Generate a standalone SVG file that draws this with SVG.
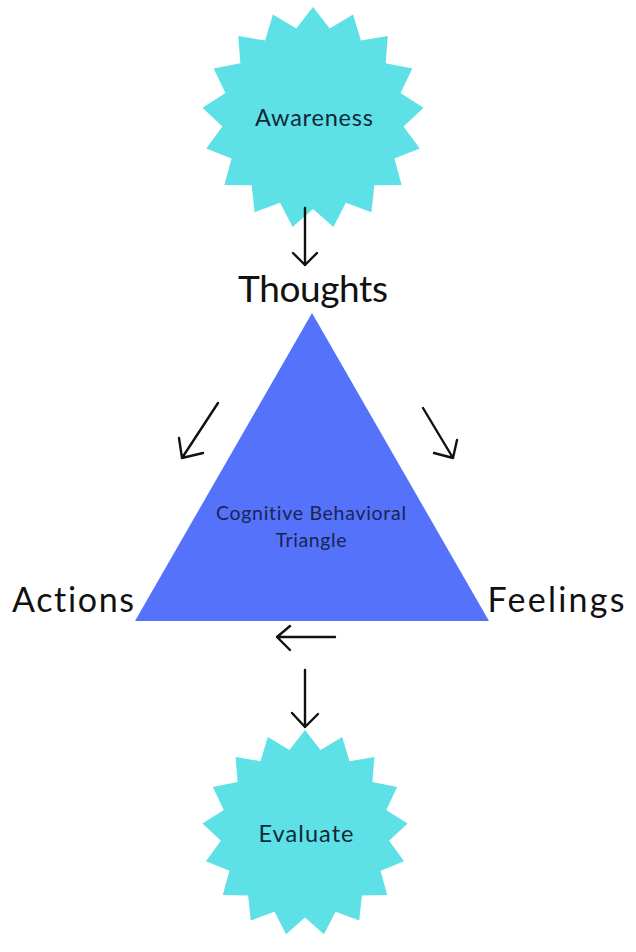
<svg xmlns="http://www.w3.org/2000/svg" xmlns:xlink="http://www.w3.org/1999/xlink" width="636" height="952" viewBox="0 0 636 952">
<style>
text{font-variant-ligatures:none;font-feature-settings:"liga" 0,"clig" 0}
.star{fill:#5DE0E6}
.tri{fill:#5472FA}
.big{font-family:Lato,"Liberation Sans",sans-serif;fill:#111;text-anchor:middle}
.small{font-family:Lato,"Liberation Sans",sans-serif;fill:#10283a;text-anchor:middle}
.inner{font-family:Lato,"Liberation Sans",sans-serif;fill:#1a2552;text-anchor:middle}
.arr{fill:none;stroke:#111;stroke-width:2.4;stroke-linecap:round;stroke-linejoin:round}
</style>
<defs>
<path id="starShape" d="M0,-100 L15.07,-80.60 L36.12,-93.25 L43.17,-69.72 L67.37,-73.90 L65.44,-49.42 L89.52,-44.57 L78.87,-22.44 L99.57,-9.23 L81.65,7.57 L96.18,27.37 L73.40,36.55 L79.80,60.26 L55.24,60.60 L52.64,85.02 L29.62,76.46 L18.38,98.30 L0,82 L-18.38,98.30 L-29.62,76.46 L-52.64,85.02 L-55.24,60.60 L-79.80,60.26 L-73.40,36.55 L-96.18,27.37 L-81.65,7.57 L-99.57,-9.23 L-78.87,-22.44 L-89.52,-44.57 L-65.44,-49.42 L-67.37,-73.90 L-43.17,-69.72 L-36.12,-93.25 L-15.07,-80.60 Z"/>
</defs>
<rect width="636" height="952" fill="#ffffff"/>
<g id="awareness">
<use xlink:href="#starShape" class="star" transform="translate(313,118) scale(1.11)"/>
<text class="small" x="314" y="126" font-size="23.5" textLength="118">Awareness</text>
</g>
<g id="triangle">
<polygon class="tri" points="312,313 489,621 135,621"/>
<text class="inner" x="311" y="520" font-size="19.5" textLength="190">Cognitive Behavioral</text>
<text class="inner" x="311" y="547" font-size="19.5" textLength="71">Triangle</text>
</g>
<g id="thoughts">
<text class="big" x="313" y="302" font-size="37" textLength="150">Thoughts</text>
</g>
<g id="actions">
<text class="big" x="73" y="612" font-size="34" textLength="122">Actions</text>
</g>
<g id="feelings">
<text class="big" x="556" y="612" font-size="34" textLength="137">Feelings</text>
</g>
<g id="evaluate">
<use xlink:href="#starShape" class="star" transform="translate(305,833) scale(1.03)"/>
<text class="small" x="306" y="842" font-size="23.5" textLength="95">Evaluate</text>
</g>
<g id="connectors">
<path class="arr" d="M305,208 L305,265 M293,253 L305,265 L317,253"/>
<path class="arr" d="M218,403 L182,458 M179,438 L182,458 L203,453"/>
<path class="arr" d="M423,408 L453,458 M434,453 L453,458 L457,440"/>
<path class="arr" d="M335,637 L277,637 M290,626 L277,637 L290,650"/>
<path class="arr" d="M305,670 L305,727 M292,713 L305,727 L318,714"/>
</g>
</svg>
